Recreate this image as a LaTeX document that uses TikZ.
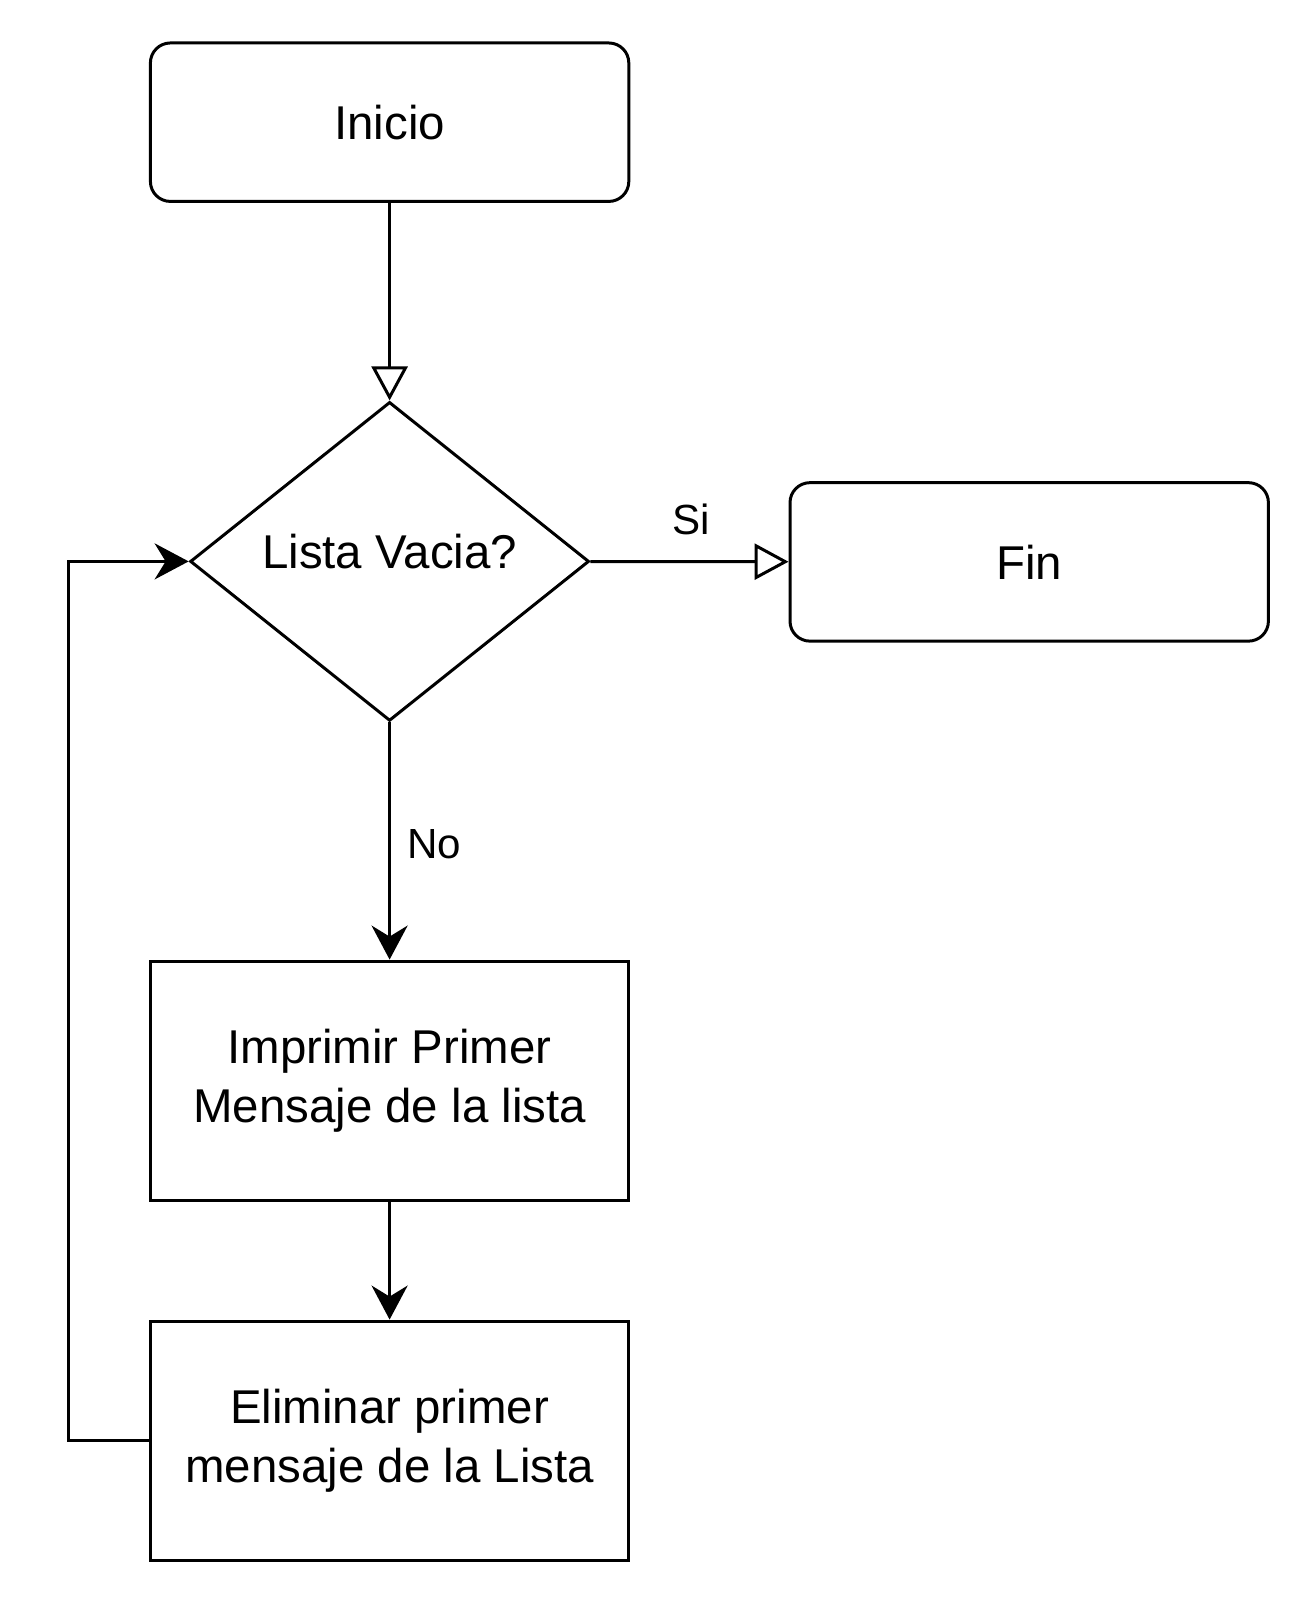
\documentclass[tikz,border=0pt]{standalone}
\usepackage{fontspec}
\setmainfont{Liberation Sans}
\usetikzlibrary{shapes.geometric,arrows.meta}
\begin{document}
\begin{tikzpicture}[x=0.02cm,y=-0.02cm,line width=1.7pt,
  txt/.style={font=\fontsize{27}{33.5}\selectfont, align=center},
  lbl/.style={font=\fontsize{24}{29}\selectfont, inner sep=0pt},
  term/.style={txt, draw, rounded corners=0.4cm, minimum width=9.57cm, minimum height=3.17cm},
  proc/.style={txt, draw, minimum width=9.57cm, minimum height=4.79cm},
  decision/.style={draw, diamond, inner sep=0pt, minimum width=7.98cm, minimum height=6.38cm},
  open/.style={-{Triangle[open, length=0.68cm, width=0.72cm]}},
  flow/.style={-{Stealth[length=0.68cm, width=0.72cm, inset=0.22cm]}}]
\useasboundingbox (0,0) rectangle (1312,1604);
\node[term] (inicio) at (389.6,122.2) {Inicio};
\node[decision] (cond) at (389.6,561.4) {};
\node[txt, inner sep=0pt] (condtxt) at (389.6,552) {Lista Vacia?};
\node[term] (fin) at (1029.2,561.9) {Fin};
\node[proc] (imprimir) at (389.6,1080.8) {Imprimir Primer\\Mensaje de la lista};
\node[proc] (eliminar) at (389.6,1440.8) {Eliminar primer\\mensaje de la Lista};
\draw[open] (inicio) -- (cond);
\draw[open] (cond) -- (fin);
\draw[flow] (cond) -- (imprimir);
\draw[flow] (imprimir) -- (eliminar);
\draw[flow] (eliminar.west) -- ++(-80.8,0) |- (cond.west);
\node[lbl] (si) at (691,519) {Si};
\node[lbl] (no) at (434,844) {No};
\end{tikzpicture}
\end{document}
